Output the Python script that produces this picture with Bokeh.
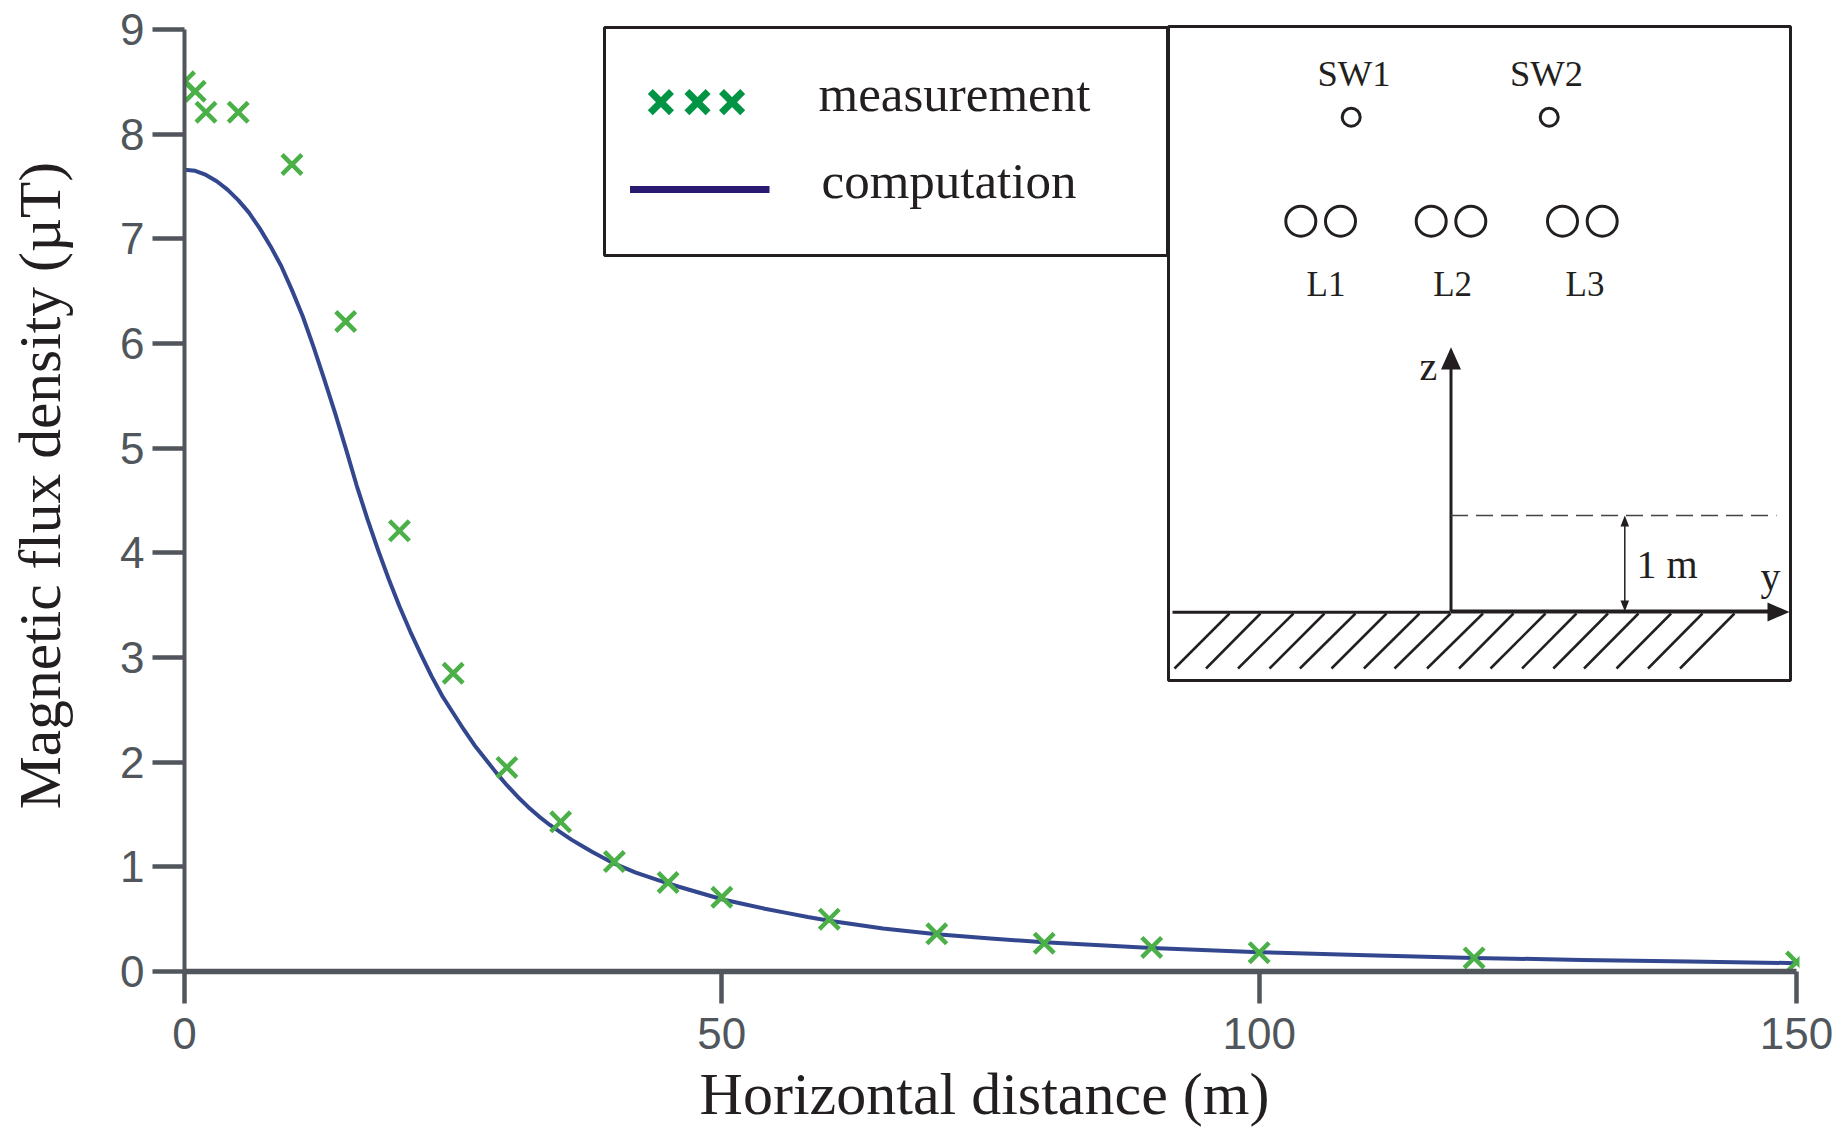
from bokeh.plotting import figure
from bokeh.models import Range1d, LinearAxis, FixedTicker
from bokeh.core.properties import value
from bokeh.embed import file_html
from bokeh.resources import INLINE
import math

# ---------- chart data ----------
meas_x = [0, 1, 2, 5, 10, 15, 20, 25, 30, 35, 40, 45, 50, 60, 70, 80, 90, 100, 120, 150]
meas_y = [8.50, 8.41, 8.21, 8.21, 7.71, 6.21, 4.21, 2.85, 1.95, 1.43, 1.05, 0.85, 0.71, 0.50,
          0.36, 0.27, 0.23, 0.18, 0.13, 0.09]
comp_x = [0, 1, 2, 3, 4, 5, 6, 7, 8, 9, 10, 11, 12, 13, 14, 15, 16, 17, 18, 19, 20, 21, 22, 23, 24, 25,
          26, 27, 28, 29, 30, 31, 32, 33, 34, 35, 36, 37, 38, 39, 40, 42, 44, 46, 48, 50, 52, 54, 56, 58,
          60, 65, 70, 75, 80, 90, 100, 110, 120, 130, 140, 150]
comp_y = [7.66, 7.65, 7.61, 7.55, 7.47, 7.37, 7.25, 7.10, 6.93, 6.74, 6.51, 6.26, 5.97, 5.66, 5.34, 5.00,
          4.65, 4.33, 4.03, 3.75, 3.49, 3.25, 3.03, 2.82, 2.63, 2.47, 2.31, 2.16, 2.03, 1.90, 1.78, 1.67,
          1.57, 1.48, 1.40, 1.33, 1.26, 1.20, 1.14, 1.085, 1.03, 0.945, 0.875, 0.81, 0.75, 0.69, 0.645, 0.60,
          0.56, 0.52, 0.485, 0.41, 0.355, 0.315, 0.28, 0.225, 0.185, 0.155, 0.13, 0.11, 0.095, 0.08]
x_ticks = [0, 50, 100, 150]
y_ticks = [0, 1, 2, 3, 4, 5, 6, 7, 8, 9]
x_title = "Horizontal distance (m)"
y_title = "Magnetic flux density (\u00b5T)"

# ---------- legend and inset diagram, in the figure's own drawing units ----------
legend_box = (604, 1167, 27, 255)
legend_mark_x = [660.4, 697, 731.6]
legend_mark_y = [101.7, 101.7, 101.7]
legend_line_x = [629.5, 769]
legend_line_y = [189, 189]
inset_box = (1168, 1790, 26, 680)
sw_x = [1350.7, 1548.7]
sw_y = [116.7, 116.7]
cond_x = [1300.3, 1340, 1430.7, 1470.3, 1562, 1601.7]
cond_y = [220.7] * 6
hatch_top = [1229, 1260, 1293, 1324, 1355, 1386, 1419, 1450, 1482.5, 1513, 1545, 1576, 1607.5, 1638, 1670.6, 1702, 1734]
hatch_low = [1174, 1205.5, 1237.5, 1269, 1299.4, 1331, 1363.4, 1394, 1426.5, 1458.5, 1490, 1521.6, 1552.8, 1583.5, 1616, 1647.5, 1679.5]
labels_inset = [("SW1", 1317, 73, 36.5), ("SW2", 1509.5, 73, 36.5), ("L1", 1306, 284, 35), ("L2", 1432.7, 284, 35),
                ("L3", 1565, 284, 35), ("z", 1419, 366, 40), ("1 m", 1636, 564, 40), ("y", 1760, 576, 40)]
legend_labels = [("measurement", 818, 93, 51), ("computation", 821, 180, 51)]

TXT = "#231f20"
AX = "#50565b"
GREEN = "#4bb048"
BLUE = "#33478f"

W, H = 1837, 1127
X0, Y0, Y9 = 184, 971, 29     # where the axes lie on the page
sx = (1796 - X0) / 150
sy = (Y0 - Y9) / 9

p = figure(width=W, height=H, output_backend="svg", toolbar_location=None,
           x_range=Range1d(-X0 / sx, (W - X0) / sx), y_range=Range1d((Y0 - H) / sy, Y0 / sy),
           x_axis_location=None, y_axis_location=None, min_border=0)
p.outline_line_color = None
p.grid.visible = False
p.background_fill_color = "white"
p.border_fill_color = "white"
p.extra_x_ranges["d"] = Range1d(0, W)
p.extra_y_ranges["d"] = Range1d(H, 0)
d = dict(x_range_name="d", y_range_name="d")

xax = LinearAxis(ticker=FixedTicker(ticks=x_ticks), bounds=(0, 150), fixed_location=0)
yax = LinearAxis(ticker=FixedTicker(ticks=y_ticks), bounds=(0, 9), fixed_location=0)
for ax, lw, tw in ((xax, 5.5, 4.5), (yax, 4, 4.5)):
    ax.axis_line_color = AX
    ax.axis_line_width = lw
    ax.major_tick_line_color = AX
    ax.major_tick_line_width = tw
    ax.major_tick_in = 0
    ax.major_tick_out = 32
    ax.minor_tick_line_color = None
    ax.major_label_text_font = "Liberation Sans"
    ax.major_label_text_font_size = "44px"
    ax.major_label_text_color = AX
xax.major_label_standoff = 14
yax.major_label_standoff = 8
p.add_layout(xax, "below")
p.add_layout(yax, "left")

# data
p.line(comp_x, comp_y, line_color=BLUE, line_width=4, line_join="round")
p.scatter(meas_x, meas_y, marker="x", size=28, line_color=GREEN, line_width=4.5)
# the reference cuts the first and last crosses at the plot's edges
p.quad(left=[160], right=[184], bottom=[110], top=[60], fill_color="white", line_color=None, **d)
p.quad(left=[1799], right=[1815], bottom=[985], top=[945], fill_color="white", line_color=None, **d)

# legend
l, r, b, t = legend_box
p.quad(left=[l], right=[r], bottom=[t], top=[b], fill_color="white", line_color=TXT, line_width=3, **d)
p.scatter(legend_mark_x, legend_mark_y, marker="x", size=30, line_color="#009444", line_width=7, **d)
p.line(legend_line_x, legend_line_y, line_color="#2a1a72", line_width=7, **d)

# inset
l, r, b, t = inset_box
p.quad(left=[l], right=[r], bottom=[t], top=[b], fill_color="white", line_color=TXT, line_width=3, **d)
p.circle(sw_x, sw_y, radius=9, radius_units="screen", fill_color=None, line_color=TXT, line_width=3, **d)
p.circle(cond_x, cond_y, radius=15, radius_units="screen", fill_color=None, line_color=TXT, line_width=3, **d)
p.segment(hatch_top, [613] * len(hatch_top), hatch_low, [668] * len(hatch_low), line_color=TXT, line_width=2.5, **d)
p.line([1172, 1450], [611.7, 611.7], line_color=TXT, line_width=3, **d)
p.line([1450, 1770], [611, 611], line_color=TXT, line_width=4, **d)
p.line([1450.5, 1450.5], [611, 365], line_color=TXT, line_width=3, **d)
p.line([1450.5, 1776], [515, 515], line_color="#444444", line_width=1.5, line_dash="17 8", **d)
p.line([1624.3, 1624.3], [522, 604], line_color=TXT, line_width=1.5, **d)
p.patch([1767, 1789, 1767], [602, 611.5, 621], fill_color=TXT, line_color=None, **d)
p.patch([1440.5, 1450.5, 1460.5], [369, 346.7, 369], fill_color=TXT, line_color=None, **d)
p.patch([1620, 1624.3, 1628.6], [526, 515, 526], fill_color=TXT, line_color=None, **d)
p.patch([1620, 1624.3, 1628.6], [600, 611, 600], fill_color=TXT, line_color=None, **d)

for group in (legend_labels, labels_inset):
    p.text([g[1] for g in group], [g[2] for g in group], text=[g[0] for g in group],
           text_font=value("Liberation Serif"), text_font_size=[f"{g[3]}px" for g in group],
           text_color=TXT, text_baseline="alphabetic", text_align="left", **d)

# axis titles
p.text([984], [1093], text=[x_title], text_font=value("Liberation Serif"), text_font_size="60px",
       text_color=TXT, text_baseline="alphabetic", text_align="center", **d)
p.text([39], [485], text=[y_title], text_font=value("Liberation Serif"), text_font_size="59.5px",
       text_color=TXT, text_baseline="alphabetic", text_align="center", angle=math.pi / 2, **d)

open("out.html", "w").write(file_html(p, INLINE))
